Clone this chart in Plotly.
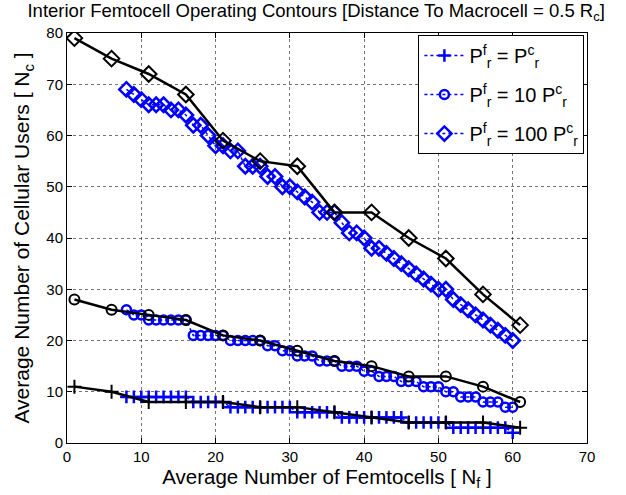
import plotly.graph_objects as go

# black reference curves (every 5 femtocells)
x_black = [1, 6, 11, 16, 21, 26, 31, 36, 41, 46, 51, 56, 61]
y_black_eq = [11, 10, 8, 8, 8, 7, 7, 6, 5, 4, 4, 4, 3]
y_black_10 = [28, 26, 25, 24, 21, 20, 18, 16, 15, 13, 13, 11, 8]
y_black_100 = [79, 75, 72, 68, 59, 55, 54, 45, 45, 40, 36, 29, 23]

# blue simulated curves (x = 8 ... 60)
x_blue = list(range(8, 61))
y_blue_eq = [9, 9, 9, 9, 9, 9, 9, 9, 9,
             8, 8, 8, 8, 8,
             7, 7, 7, 7, 7, 7, 7, 7, 7,
             6, 6, 6, 6, 6, 6,
             5, 5, 5, 5, 5, 5, 5, 5, 5,
             4, 4, 4, 4, 4, 4,
             3, 3, 3, 3, 3, 3, 3, 3,
             2]
y_blue_10 = [26, 25, 25, 24, 24, 24, 24, 24, 24,
             21, 21, 21, 21, 21,
             20, 20, 20, 20, 20, 19, 19, 18, 18,
             17, 17, 17, 16, 16, 16,
             15, 15, 15, 14, 14, 13, 13, 13, 12, 12, 12,
             11, 11, 11, 10, 10, 9, 9, 9, 8, 8, 8, 7, 7]
y_blue_100 = [69, 68, 67, 66, 66, 66, 65, 65, 64, 62, 62, 60, 58, 58, 57, 57,
              54, 54, 54, 52, 52, 50, 50, 49, 48, 47, 45, 45, 45, 43, 41, 41,
              40, 38, 38, 37, 36, 35, 34, 33, 32, 31, 30, 30, 28, 27, 26, 25,
              24, 23, 22, 21, 20]

legend_names = [
    "P<sup>f</sup><sub>r</sub> = P<sup>c</sup><sub>r</sub>",
    "P<sup>f</sup><sub>r</sub> = 10 P<sup>c</sup><sub>r</sub>",
    "P<sup>f</sup><sub>r</sub> = 100 P<sup>c</sup><sub>r</sub>",
]

BLUE = "#0000ff"
FONT = "Liberation Sans, Arial, sans-serif"

fig = go.Figure()

blue_sets = [
    (y_blue_eq, "cross-thin-open", 9),
    (y_blue_10, "circle-open", 9),
    (y_blue_100, "diamond-open", 11),
]
for i, ((ys, sym, size), name) in enumerate(zip(blue_sets, legend_names)):
    fig.add_trace(go.Scatter(
        x=x_blue, y=ys, mode="lines+markers", name=name, legendgroup=f"g{i}",
        line=dict(color=BLUE, width=1.5, dash="dot"),
        marker=dict(symbol=sym, size=size, color=BLUE, line=dict(color=BLUE, width=2.5)),
    ))

black_sets = [
    (y_black_eq, "cross-thin-open", 10),
    (y_black_10, "circle-open", 10),
    (y_black_100, "diamond-open", 12),
]
for ys, sym, size in black_sets:
    fig.add_trace(go.Scatter(
        x=x_black, y=ys, mode="lines+markers", showlegend=False,
        line=dict(color="black", width=2.5),
        marker=dict(symbol=sym, size=size, color="black", line=dict(color="black", width=2)),
    ))

axis_common = dict(
    showline=True, linecolor="black", linewidth=1, mirror="ticks",
    ticks="inside", ticklen=5, tickcolor="black",
    showgrid=True, gridcolor="rgba(0,0,0,0.55)", griddash="dot", gridwidth=1,
    zeroline=False, tickfont=dict(size=15, color="black"), automargin=False,
)

fig.update_xaxes(range=[0, 70], dtick=10, **axis_common,
                 title=dict(text="Average Number of Femtocells [ N<sub>f</sub> ]",
                            font=dict(size=20.5, color="black"), standoff=2))
fig.update_yaxes(range=[0, 80], dtick=10, **axis_common,
                 title=dict(text="Average Number of Cellular Users [ N<sub>c</sub> ]",
                            font=dict(size=21, color="black"), standoff=10))

fig.update_layout(
    width=626, height=495,
    margin=dict(l=67, r=39, t=33, b=52),
    paper_bgcolor="white", plot_bgcolor="white",
    font=dict(family=FONT, color="black"),
    title=dict(text="Interior Femtocell Operating Contours [Distance To Macrocell = 0.5 R<sub>c</sub>]",
               font=dict(size=18.5, color="black"), x=0.505, xanchor="center", y=0.992, yanchor="top"),
    legend=dict(x=0.995, y=0.995, xanchor="right", yanchor="top",
                bgcolor="white", bordercolor="black", borderwidth=1,
                font=dict(size=20, color="black"), itemwidth=40, tracegroupgap=10),
    showlegend=True,
)

# drop the browser's default 8px body margin so the figure fills the window
fig.write_html("out.html", config={"displayModeBar": False},
               post_script="document.body.style.margin = '0';")
